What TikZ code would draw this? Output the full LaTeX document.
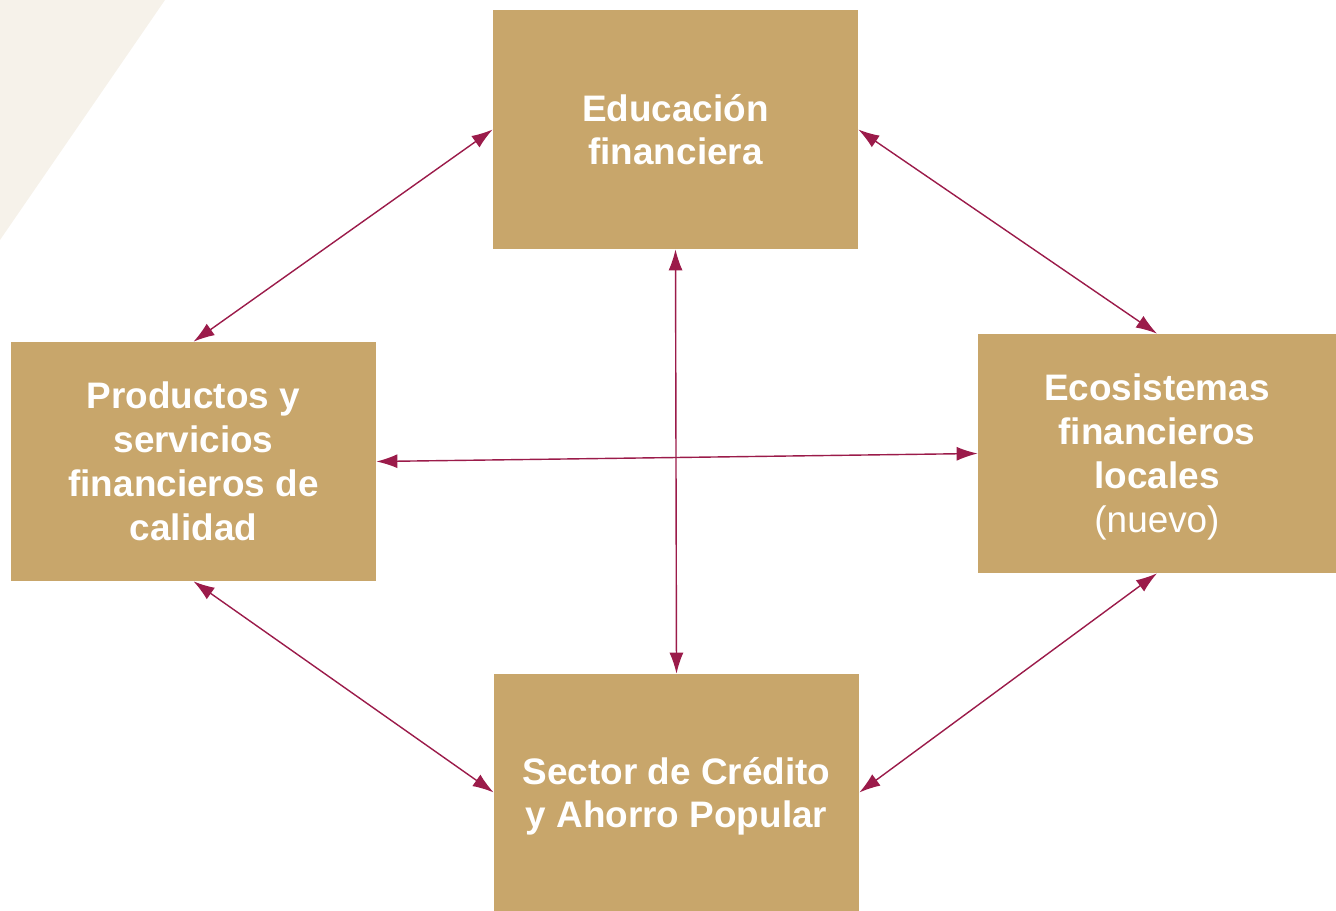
\documentclass[tikz,border=0pt]{standalone}
\usepackage{fontspec}
\setmainfont{Liberation Sans}
\usepackage{xcolor}
\usetikzlibrary{positioning, arrows.meta}
\definecolor{caja}{HTML}{C8A66B}
\definecolor{guinda}{HTML}{9B1B4A}
\definecolor{fondo}{HTML}{F6F2EA}

\tikzset{
  pilar/.style={fill=caja, draw=none, text=white, align=center,
    minimum width=7.3cm, minimum height=4.78cm, text depth=0pt,
    font=\bfseries\fontsize{21}{25}\selectfont},
  enlace/.style={{Latex[length=12pt,width=8pt]}-{Latex[length=12pt,width=8pt]}, color=guinda, line width=0.8pt}
}

\begin{document}
\begin{tikzpicture}[x=0.02cm, y=-0.02cm]
\useasboundingbox (0, 0) rectangle (1336, 911);
\fill [fondo] (0, 0) -- (165, 0) -- (0, 240) -- cycle;
\node [pilar] (educacion) at (675.5, 129.5) {Educación\\financiera};
\node [pilar] (productos) at (193.5, 461.5) {Productos y\\servicios\\financieros de\\calidad};
\node [pilar, minimum width=7.16cm] (ecosistemas) at (1157, 453.5) {Ecosistemas\\financieros\\locales\\{\mdseries(nuevo)}};
\node [pilar, minimum height=4.74cm] (sector) at (676.5, 792.5) {Sector de Crédito\\y Ahorro Popular};
\draw [enlace] (educacion.west) -- (productos.north);
\draw [enlace] (educacion.east) -- (ecosistemas.north);
\draw [enlace] (educacion.south) -- (sector.north);
\draw [enlace] (productos.east) -- (ecosistemas.west);
\draw [enlace] (productos.south) -- (sector.west);
\draw [enlace] (ecosistemas.south) -- (sector.east);
\end{tikzpicture}
\end{document}
